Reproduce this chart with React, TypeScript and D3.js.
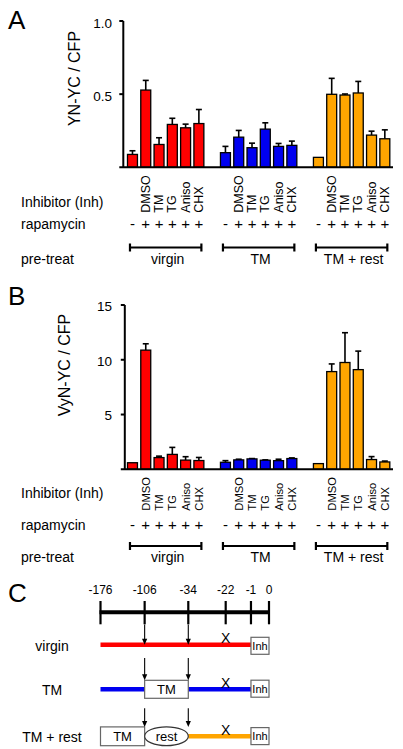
import React from 'react';
import * as d3 from 'd3';

// ---------- data ----------
const groups = ['virgin', 'TM', 'TM + rest'];
const groupColors = ['#ff0000', '#0000f0', '#ffa500'];
const inhibitors = ['', 'DMSO', 'TM', 'TG', 'Aniso', 'CHX'];
const rapamycin = ['-', '+', '+', '+', '+', '+'];

// Panel A: YN-YC / CFP
const aVirgin = [0.088, 0.528, 0.156, 0.293, 0.27, 0.299];
const aVirginErr = [0.025, 0.066, 0.046, 0.042, 0.025, 0.096];
const aTM = [0.1, 0.206, 0.134, 0.261, 0.143, 0.15];
const aTMErr = [0.043, 0.046, 0.031, 0.043, 0.02, 0.029];
const aTMRest = [0.068, 0.499, 0.494, 0.508, 0.22, 0.195];
const aTMRestErr = [0, 0.109, 0.007, 0.079, 0.027, 0.061];
const aTicks = [0.5, 1.0];

// Panel B: VyN-YC / CFP
const bVirgin = [0.6, 10.88, 1.07, 1.36, 0.84, 0.8];
const bVirginErr = [0, 0.58, 0.13, 0.64, 0.31, 0.28];
const bTM = [0.64, 0.86, 0.95, 0.83, 0.79, 0.98];
const bTMErr = [0.15, 0.06, 0.03, 0.03, 0.13, 0.06];
const bTMRest = [0.52, 8.92, 9.75, 9.1, 0.89, 0.67];
const bTMRestErr = [0, 0.7, 2.72, 1.69, 0.27, 0.08];
const bTicks = [5, 10, 15];

// Panel C: timeline
const tlTicks = [-176, -106, -34, -22, -1, 0];
const tlFrac = [0, 0.262, 0.521, 0.743, 0.893, 1]; // schematic (non-linear) spacing
const tlRows = ['virgin', 'TM', 'TM + rest'];

const FONT = '"Liberation Sans", Arial, Helvetica, sans-serif';

const slots: string[] = [];
groups.forEach((g, gi) => {
  inhibitors.forEach((_, i) => slots.push(`${gi}-${i}`));
  if (gi < groups.length - 1) slots.push(`gap${gi}`);
});

const xBand = d3
  .scaleBand<string>()
  .domain(slots)
  .range([125.5, 391.8])
  .paddingInner(0.25)
  .paddingOuter(0.15);

type PanelCfg = {
  letter: string;
  letterY: number;
  axisX: number;
  yTop: number;
  yBase: number;
  max: number;
  ticks: number[];
  fmt: (v: number) => string;
  ylabel: string;
  ylabelX: number;
  ylabelY: number;
  values: number[][];
  errs: number[][];
  inhBottom: number;
  inhFont: number;
  inhibY: number;
  rapaY: number;
  bracketY: number;
  preY: number;
  tickLabelDy: number;
};

function Panel({ c }: { c: PanelCfg }) {
  const y = d3.scaleLinear().domain([0, c.max]).range([c.yBase, c.yTop]);
  const bw = xBand.bandwidth();
  const cx = (gi: number, i: number) => (xBand(`${gi}-${i}`) as number) + bw / 2;
  return (
    <g>
      <text x={8} y={c.letterY} fontSize={26} fontFamily={FONT}>
        {c.letter}
      </text>
      {/* y label */}
      <text
        transform={`translate(${c.ylabelX},${c.ylabelY}) rotate(-90)`}
        textAnchor="middle"
        fontSize={16}
        fontFamily={FONT}
      >
        {c.ylabel}
      </text>
      {/* bars */}
      {c.values.map((vals, gi) =>
        vals.map((v, i) => {
          const x0 = xBand(`${gi}-${i}`) as number;
          const top = y(v);
          const e = c.errs[gi][i];
          const et = y(v + e);
          const xc = x0 + bw / 2;
          return (
            <g key={`${gi}-${i}`}>
              {e > 0 && (
                <g stroke="#000" strokeWidth={1.6}>
                  <line x1={xc} x2={xc} y1={top} y2={et} />
                  <line x1={xc - 3} x2={xc + 3} y1={et} y2={et} />
                </g>
              )}
              <rect
                x={x0}
                y={top}
                width={bw}
                height={c.yBase - top}
                fill={groupColors[gi]}
                stroke="#000"
                strokeWidth={1.3}
              />
            </g>
          );
        })
      )}
      {/* axes */}
      <line x1={c.axisX} x2={c.axisX} y1={c.yTop} y2={c.yBase} stroke="#000" strokeWidth={2} />
      <line x1={c.axisX - 4} x2={393} y1={c.yBase} y2={c.yBase} stroke="#000" strokeWidth={2} />
      {c.ticks.map((t) => (
        <g key={String(t)}>
          <line x1={c.axisX - 4} x2={c.axisX} y1={y(t)} y2={y(t)} stroke="#000" strokeWidth={2} />
          <text
            x={112}
            y={y(t) + c.tickLabelDy}
            textAnchor="end"
            fontSize={13.5}
            fontFamily={FONT}
            fill="#000"
          >
            {c.fmt(t)}
          </text>
        </g>
      ))}
      {/* row labels */}
      <text x={21} y={c.inhibY} fontSize={14} fontFamily={FONT}>
        Inhibitor (Inh)
      </text>
      <text x={21} y={c.rapaY} fontSize={14} fontFamily={FONT}>
        rapamycin
      </text>
      <text x={21} y={c.preY} fontSize={14} fontFamily={FONT}>
        pre-treat
      </text>
      {groups.map((g, gi) => (
        <g key={g}>
          {inhibitors.map((inh, i) =>
            inh ? (
              <text
                key={inh}
                transform={`translate(${cx(gi, i)},${c.inhBottom}) rotate(-90)`}
                textAnchor="start"
                dominantBaseline="central"
                fontSize={c.inhFont}
                fontFamily={FONT}
              >
                {inh}
              </text>
            ) : null
          )}
          {rapamycin.map((r, i) => (
            <text
              key={i}
              x={cx(gi, i)}
              y={c.rapaY}
              textAnchor="middle"
              fontSize={15}
              fontFamily={FONT}
            >
              {r}
            </text>
          ))}
          <g stroke="#000" strokeWidth={2.2}>
            <line x1={cx(gi, 0) - 2.5} x2={cx(gi, 5) + 2.5} y1={c.bracketY} y2={c.bracketY} />
            <line x1={cx(gi, 0) - 2.5} x2={cx(gi, 0) - 2.5} y1={c.bracketY - 4} y2={c.bracketY + 4} />
            <line x1={cx(gi, 5) + 2.5} x2={cx(gi, 5) + 2.5} y1={c.bracketY - 4} y2={c.bracketY + 4} />
          </g>
          <text
            x={(cx(gi, 0) + cx(gi, 5)) / 2 + 2}
            y={c.preY}
            textAnchor="middle"
            fontSize={14}
            fontFamily={FONT}
          >
            {g}
          </text>
        </g>
      ))}
    </g>
  );
}

function Arrow({ x, y1, y2 }: { x: number; y1: number; y2: number }) {
  return (
    <g>
      <line x1={x} x2={x} y1={y1} y2={y2 - 5} stroke="#000" strokeWidth={1.1} />
      <path d={`M${x - 2.6},${y2 - 6} L${x + 2.6},${y2 - 6} L${x},${y2} Z`} fill="#000" />
    </g>
  );
}

function Timeline() {
  const t = d3
    .scaleLinear()
    .domain(tlTicks)
    .range(tlFrac.map((f) => 100.5 + f * 168.5));
  const axisY = 612.3;
  const rowY = [644.8, 689.3, 736.2];
  const arrowFrom = [624.5, 658, 708.3];
  const boxTop = [0, 680.3, 726.9];
  const inhTop = [637.3, 680.2, 727.6];
  const arrowTo = [rowY[0], 680.3, 726.9];
  return (
    <g fontFamily={FONT}>
      <text x={8} y={601.5} fontSize={26}>
        C
      </text>
      <line x1={t(-176) - 1} x2={t(0) + 1} y1={axisY} y2={axisY} stroke="#000" strokeWidth={4} />
      {tlTicks.map((v) => (
        <g key={v}>
          <line x1={t(v)} x2={t(v)} y1={601} y2={624.3} stroke="#000" strokeWidth={2.2} />
          <text x={t(v)} y={593.5} textAnchor="middle" fontSize={12}>
            {v}
          </text>
        </g>
      ))}
      {tlRows.map((name, ri) => {
        const yy = rowY[ri];
        const col = groupColors[ri];
        return (
          <g key={name}>
            <text x={52} y={yy + 6} textAnchor="middle" fontSize={14}>
              {name}
            </text>
            {ri === 0 && (
              <line x1={t(-176)} x2={t(-1)} y1={yy} y2={yy} stroke={col} strokeWidth={4.5} />
            )}
            {ri === 1 && (
              <g>
                <line x1={t(-176)} x2={t(-106)} y1={yy} y2={yy} stroke={col} strokeWidth={4.5} />
                <line x1={t(-34)} x2={t(-1)} y1={yy} y2={yy} stroke={col} strokeWidth={4.5} />
                <rect
                  x={t(-106)}
                  y={boxTop[1]}
                  width={t(-34) - t(-106)}
                  height={18}
                  fill="#fff"
                  stroke="#666"
                  strokeWidth={1.2}
                />
                <text x={(t(-106) + t(-34)) / 2} y={boxTop[1] + 13.5} textAnchor="middle" fontSize={13}>
                  TM
                </text>
              </g>
            )}
            {ri === 2 && (
              <g>
                <line x1={t(-34)} x2={t(-1)} y1={yy} y2={yy} stroke={col} strokeWidth={4.5} />
                <rect
                  x={t(-176)}
                  y={boxTop[2]}
                  width={t(-106) - t(-176)}
                  height={18.8}
                  fill="#fff"
                  stroke="#666"
                  strokeWidth={1.2}
                />
                <text x={(t(-176) + t(-106)) / 2} y={boxTop[2] + 14} textAnchor="middle" fontSize={13}>
                  TM
                </text>
                <ellipse
                  cx={(t(-106) + t(-34)) / 2}
                  cy={yy}
                  rx={(t(-34) - t(-106)) / 2}
                  ry={9.4}
                  fill="#fff"
                  stroke="#333"
                  strokeWidth={1.2}
                />
                <text x={(t(-106) + t(-34)) / 2} y={yy + 4.8} textAnchor="middle" fontSize={13}>
                  rest
                </text>
              </g>
            )}
            <Arrow x={t(-106)} y1={arrowFrom[ri]} y2={arrowTo[ri]} />
            <Arrow x={t(-34)} y1={arrowFrom[ri]} y2={arrowTo[ri]} />
            <text x={t(-22)} y={yy - 1.5} textAnchor="middle" fontSize={14}>
              X
            </text>
            <rect
              x={t(-1)}
              y={inhTop[ri]}
              width={t(0) - t(-1)}
              height={17}
              fill="#fff"
              stroke="#666"
              strokeWidth={1.2}
            />
            <text x={(t(-1) + t(0)) / 2} y={inhTop[ri] + 12.5} textAnchor="middle" fontSize={11}>
              Inh
            </text>
          </g>
        );
      })}
    </g>
  );
}

const panelA: PanelCfg = {
  letter: 'A',
  letterY: 28.5,
  axisX: 123.3,
  yTop: 21,
  yBase: 167.3,
  max: 1.0,
  ticks: aTicks,
  fmt: d3.format('.1f'),
  ylabel: 'YN-YC / CFP',
  ylabelX: 80,
  ylabelY: 78.5,
  values: [aVirgin, aTM, aTMRest],
  errs: [aVirginErr, aTMErr, aTMRestErr],
  inhBottom: 212.7,
  inhFont: 12.5,
  inhibY: 206.7,
  rapaY: 228.8,
  bracketY: 247.5,
  preY: 264,
  tickLabelDy: 6.5,
};

const panelB: PanelCfg = {
  letter: 'B',
  letterY: 305,
  axisX: 124.8,
  yTop: 305,
  yBase: 469.3,
  max: 15,
  ticks: bTicks,
  fmt: d3.format('d'),
  ylabel: 'VyN-YC / CFP',
  ylabelX: 70,
  ylabelY: 365,
  values: [bVirgin, bTM, bTMRest],
  errs: [bVirginErr, bTMErr, bTMRestErr],
  inhBottom: 510.7,
  inhFont: 11.2,
  inhibY: 497.7,
  rapaY: 529.8,
  bracketY: 546,
  preY: 561.5,
  tickLabelDy: 5.8,
};

export default function App() {
  return (
    <svg
      width={403}
      height={749}
      viewBox="0 0 403 749"
      style={{ position: 'absolute', left: 0, top: 0, background: '#fff' }}
      fontFamily={FONT}
    >
      <rect x={0} y={0} width={403} height={749} fill="#fff" />
      <Panel c={panelA} />
      <Panel c={panelB} />
      <Timeline />
    </svg>
  );
}
